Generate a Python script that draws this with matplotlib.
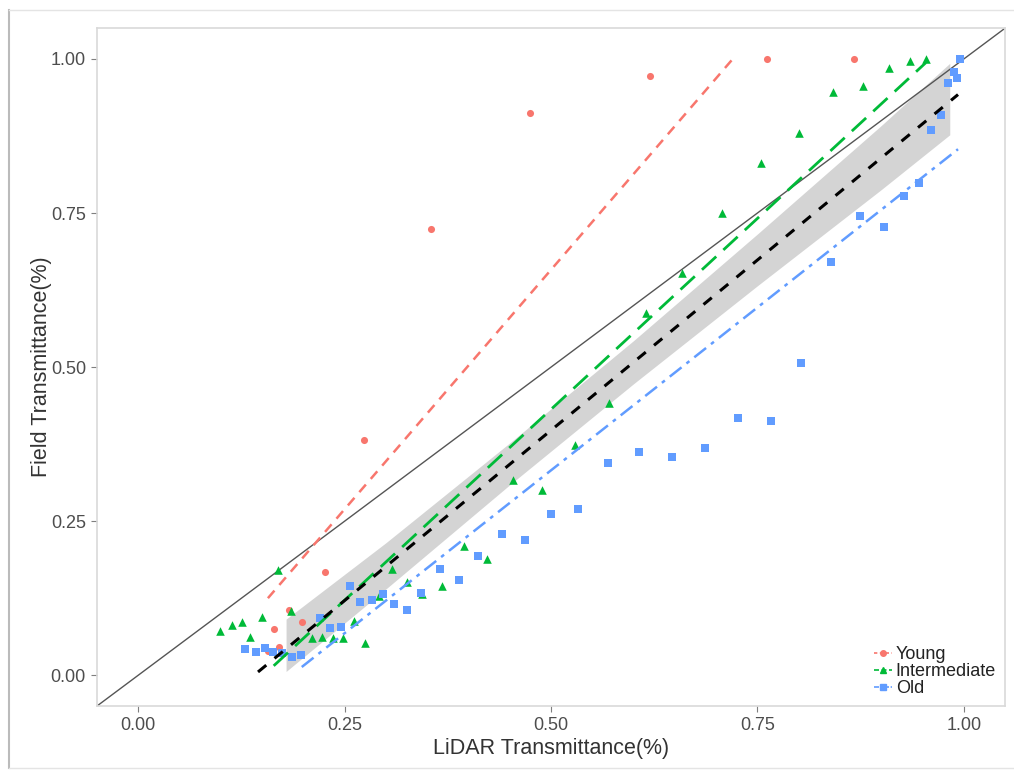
import numpy as np
import matplotlib
matplotlib.use('Agg')
import matplotlib.pyplot as plt
from matplotlib.lines import Line2D


plt.rcParams['font.family'] = ['Liberation Sans', 'DejaVu Sans']

# LiDAR vs field transmittance, by stand age class
young_x = [0.157, 0.164, 0.171, 0.182, 0.198, 0.226, 0.273, 0.354, 0.475,
           0.620, 0.761, 0.867]
young_y = [0.039, 0.075, 0.045, 0.106, 0.086, 0.167, 0.381, 0.724, 0.912,
           0.972, 1.000, 1.000]

inter_x = [0.099, 0.114, 0.126, 0.135, 0.150, 0.169, 0.185, 0.210, 0.223,
           0.236, 0.248, 0.261, 0.275, 0.291, 0.307, 0.325, 0.344, 0.368,
           0.394, 0.423, 0.454, 0.489, 0.529, 0.570, 0.615, 0.659, 0.707,
           0.754, 0.800, 0.842, 0.878, 0.909, 0.935, 0.954]
inter_y = [0.071, 0.081, 0.086, 0.062, 0.094, 0.170, 0.104, 0.060, 0.062,
           0.060, 0.060, 0.088, 0.053, 0.128, 0.173, 0.151, 0.131, 0.144,
           0.209, 0.188, 0.316, 0.300, 0.374, 0.442, 0.587, 0.653, 0.750,
           0.831, 0.880, 0.946, 0.956, 0.985, 0.997, 1.000]

old_x = [0.129, 0.143, 0.153, 0.163, 0.174, 0.186, 0.197, 0.220, 0.232,
         0.245, 0.256, 0.269, 0.283, 0.296, 0.310, 0.325, 0.343, 0.365,
         0.388, 0.412, 0.440, 0.469, 0.500, 0.533, 0.569, 0.607, 0.646,
         0.687, 0.727, 0.766, 0.803, 0.839, 0.874, 0.903, 0.927, 0.946,
         0.960, 0.972, 0.981, 0.988, 0.992, 0.995]
old_y = [0.042, 0.037, 0.044, 0.037, 0.036, 0.029, 0.032, 0.092, 0.076,
         0.078, 0.144, 0.118, 0.122, 0.131, 0.115, 0.105, 0.133, 0.173,
         0.154, 0.193, 0.229, 0.220, 0.261, 0.269, 0.345, 0.363, 0.354,
         0.368, 0.418, 0.412, 0.507, 0.671, 0.746, 0.728, 0.778, 0.799,
         0.885, 0.909, 0.961, 0.979, 0.969, 1.000]

# linear fits: intercept, slope, x start, x end
young_fit = [-0.119, 1.554, 0.157, 0.719]
inter_fit = [-0.188, 1.239, 0.164, 0.954]
old_fit = [-0.196, 1.057, 0.198, 0.993]
all_fit = [-0.155, 1.105, 0.145, 0.993]

# confidence band of the pooled fit
band_x = [0.179, 0.30, 0.45, 0.60, 0.75, 0.90, 0.983]
band_lo = [0.006, 0.140, 0.309, 0.473, 0.632, 0.788, 0.877]
band_hi = [0.091, 0.215, 0.377, 0.543, 0.716, 0.892, 0.993]

red = '#F8766D'
green = '#00BA38'
blue = '#619CFF'


def fit_line(ax, fit, **kw):
    x = np.array([fit[2], fit[3]])
    ax.plot(x, fit[0] + fit[1]*x, **kw)


fig = plt.figure(figsize=(10.14, 7.72), dpi=100)
ax = fig.add_axes([0.0957, 0.0855, 0.8955, 0.878])

# 1:1 line
ax.plot([-0.05, 1.05], [-0.05, 1.05], color='#555555', lw=1.0, zorder=2)

ax.fill_between(band_x, band_lo, band_hi, color='#d4d4d4', lw=0, zorder=1)

ax.scatter(young_x, young_y, s=26, marker='o', color=red, lw=0, zorder=3)
ax.scatter(inter_x, inter_y, s=38, marker='^', color=green, lw=0, zorder=3)
ax.scatter(old_x, old_y, s=30, marker='s', color=blue, lw=0, zorder=3)

fit_line(ax, young_fit, color=red, lw=1.8, ls=(0, (4, 3)), zorder=4)
fit_line(ax, inter_fit, color=green, lw=2.0, ls=(0, (7, 3.5)), zorder=4)
fit_line(ax, old_fit, color=blue, lw=1.8, ls=(0, (6, 2.5, 1.5, 2.5)), zorder=4)
fit_line(ax, all_fit, color='black', lw=2.2, ls=(0, (3.5, 3.5)), zorder=5)

ax.set_xlim(-0.05, 1.05)
ax.set_ylim(-0.05, 1.05)
ticks = [0.0, 0.25, 0.5, 0.75, 1.0]
ax.set_xticks(ticks)
ax.set_yticks(ticks)
ax.set_xticklabels(['0.00', '0.25', '0.50', '0.75', '1.00'])
ax.set_yticklabels(['0.00', '0.25', '0.50', '0.75', '1.00'])
ax.tick_params(colors='#7f7f7f', labelcolor='#4d4d4d', labelsize=13,
               length=4, width=0.8, pad=4)
for sp in ax.spines.values():
    sp.set_color('#d9d9d9')
    sp.set_linewidth(1.2)

ax.set_xlabel('LiDAR Transmittance(%)', fontsize=15.5, color='#333333',
              labelpad=3)
ax.set_ylabel('Field Transmittance(%)', fontsize=15.5, color='#333333',
              labelpad=-1)

handles = [
    Line2D([], [], color=red, marker='o', ms=4, ls=(0, (2, 1.5)), lw=1.2),
    Line2D([], [], color=green, marker='^', ms=5, ls=(0, (3, 1.5)), lw=1.2),
    Line2D([], [], color=blue, marker='s', ms=4, ls=(0, (3, 1, 1, 1)), lw=1.2),
]
leg = ax.legend(handles, ['Young', 'Intermediate', 'Old'], loc='lower right',
                bbox_to_anchor=(1.0, 0.0), frameon=False, fontsize=13,
                handlelength=1.0, handletextpad=0.2, labelspacing=0.0,
                borderaxespad=0.1)
for t in leg.get_texts():
    t.set_color('#222222')

# frame round the whole figure
fig.add_artist(Line2D([0.009, 0.009], [0.005, 0.987], color='#bbbbbb',
                      lw=1.5, transform=fig.transFigure))
fig.add_artist(Line2D([0.009, 1.0], [0.987, 0.987], color='#e4e4e4',
                      lw=1.0, transform=fig.transFigure))
fig.add_artist(Line2D([0.009, 1.0], [0.005, 0.005], color='#e4e4e4',
                      lw=1.0, transform=fig.transFigure))

fig.savefig('out.png', dpi=100)
